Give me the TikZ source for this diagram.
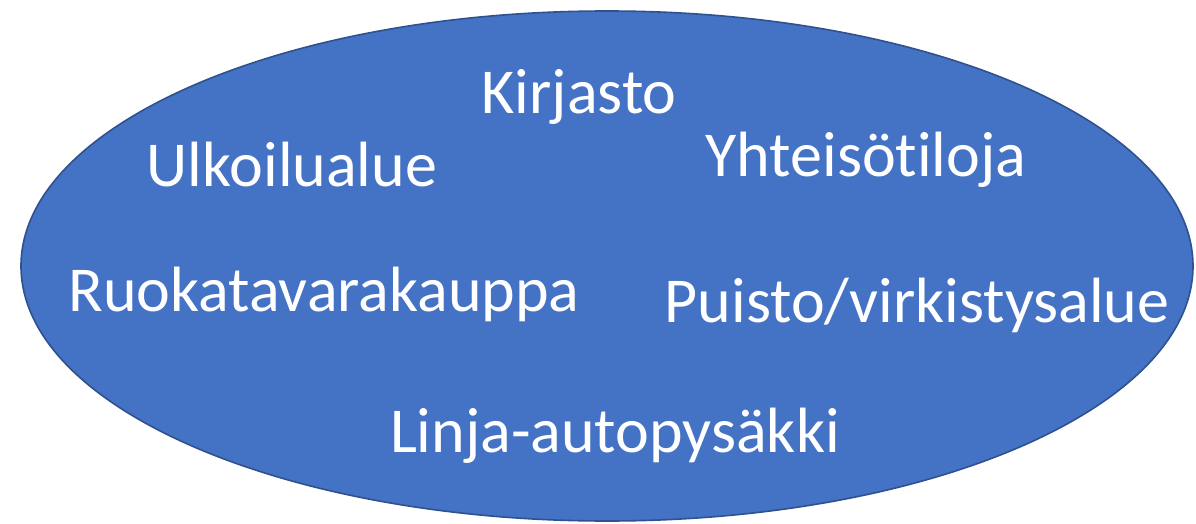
\documentclass[tikz,border=0pt]{standalone}
\usepackage{fontspec}
\setmainfont{Carlito}[RawFeature={-liga;-clig;-dlig;-calt}]
\usetikzlibrary{shapes.geometric}
\definecolor{blobfill}{HTML}{4472C4}
\definecolor{blobline}{HTML}{2F528F}

\begin{document}
\begin{tikzpicture}[x=0.75pt,y=-0.75pt,
                    place/.style={text=white,anchor=base,inner sep=0pt,
                                  font=\fontsize{48}{57}\selectfont}]

 \useasboundingbox (0,0) rectangle (1196,524);
 \node[ellipse,fill=blobfill,draw=blobline,line width=1.2pt,
       minimum width=1172*0.75pt,minimum height=510*0.75pt,inner sep=0pt](area) at (607,266) {};

  \node[place](kirjasto)   at (579,114)  {Kirjasto};
  \node[place](ulkoilu)    at (292,187)  {Ulkoilualue};
  \node[place](yhteiso)    at (866,177)  {Yhteisötiloja};
  \node[place](ruoka)      at (324,311)  {Ruokatavarakauppa};
  \node[place](puisto)     at (917,322)  {Puisto/virkistysalue};
  \node[place](pysakki)    at (615,452)  {Linja-autopysäkki};

\end{tikzpicture}
\end{document}
